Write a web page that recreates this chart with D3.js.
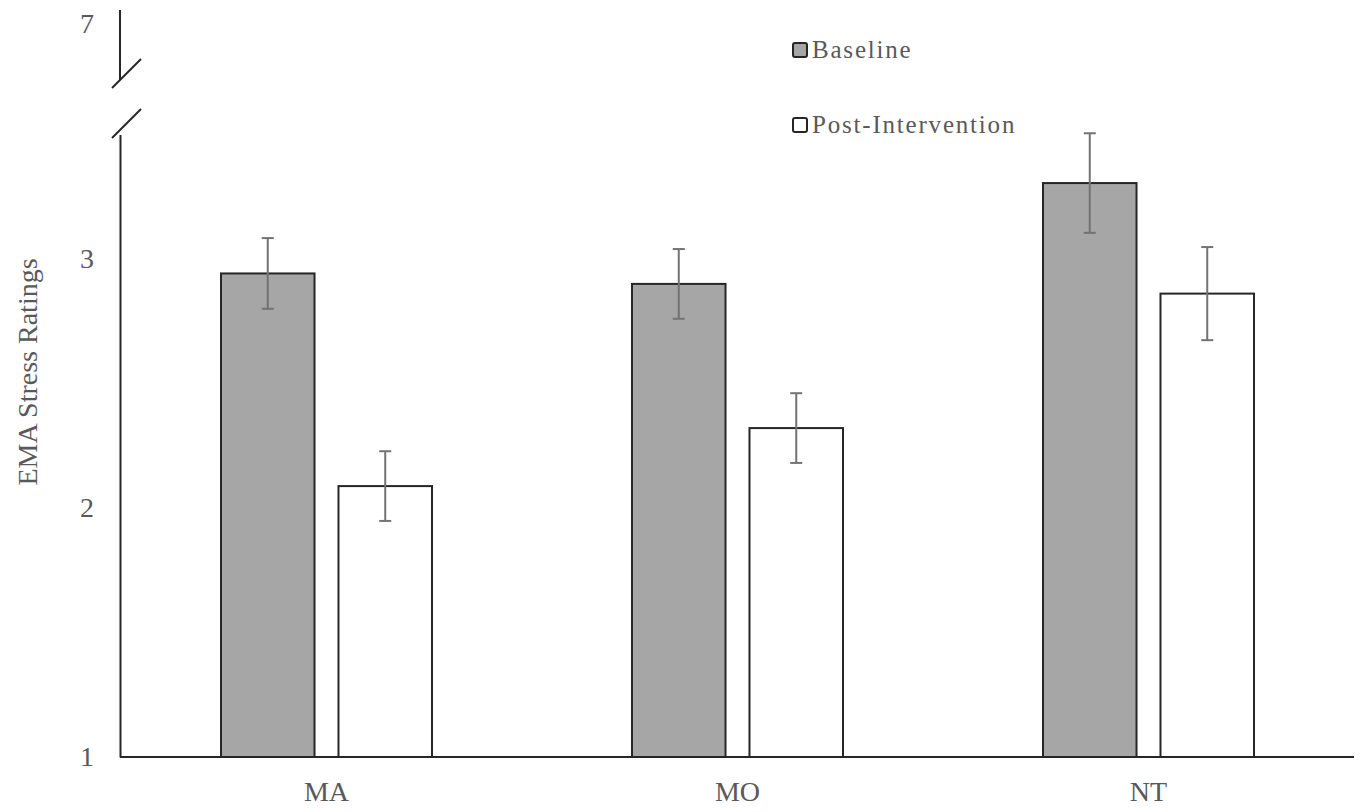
<!DOCTYPE html>
<html>
<head>
<meta charset="utf-8">
<script src="https://cdn.jsdelivr.net/npm/d3@7"></script>
<style>
  html, body { margin: 0; padding: 0; background: #fff; }
  svg { display: block; }
  text { font-family: "Liberation Serif", "Times New Roman", serif; fill: #595959; }
</style>
</head>
<body>
<svg id="chart" width="1362" height="812"></svg>
<script>
// ---- data ----
const categories = ["MA", "MO", "NT"];
const seriesNames = ["Baseline", "Post-Intervention"];
const baselineValues = [2.942, 2.90, 3.305];
const postValues = [2.088, 2.321, 2.861];
const baselineErrors = [0.142, 0.14, 0.20];
const postErrors = [0.14, 0.14, 0.187];
const yTickValues = [1, 2, 3];
const yTopTick = [7];
const yTitle = "EMA Stress Ratings";

// ---- layout ----
const W = 1362, H = 812;
const svg = d3.select("#chart");
const ink = "#262626";
const fills = ["#a6a6a6", "#ffffff"];
const axisX = 120;

const x0 = d3.scaleBand().domain(categories).range([121, 1354]).paddingInner(0).paddingOuter(0);
const x1 = d3.scaleBand().domain(seriesNames).range([100, 311]).paddingInner(0.204).paddingOuter(0);
const y = d3.scaleLinear().domain([1, 3.5]).range([757, 134.5]);
const yTop = d3.scaleLinear().domain([6.8, 7.05]).range([80, 10]);

const rows = categories.map((c, i) => ({
  cat: c,
  vals: [
    { s: seriesNames[0], v: baselineValues[i], e: baselineErrors[i], f: fills[0] },
    { s: seriesNames[1], v: postValues[i], e: postErrors[i], f: fills[1] }
  ]
}));

// bars
const g = svg.append("g");
const groups = g.selectAll("g.cat").data(rows).join("g")
  .attr("class", "cat")
  .attr("transform", d => `translate(${x0(d.cat)},0)`);

groups.selectAll("rect").data(d => d.vals).join("rect")
  .attr("x", d => x1(d.s))
  .attr("width", x1.bandwidth())
  .attr("y", d => y(d.v))
  .attr("height", d => y(1) - y(d.v))
  .attr("fill", d => d.f)
  .attr("stroke", ink)
  .attr("stroke-width", 2);

// error bars
const eb = groups.selectAll("g.err").data(d => d.vals).join("g").attr("class", "err");
const ebColor = "#737373";
eb.append("line")
  .attr("x1", d => x1(d.s) + x1.bandwidth() / 2)
  .attr("x2", d => x1(d.s) + x1.bandwidth() / 2)
  .attr("y1", d => y(d.v + d.e))
  .attr("y2", d => y(d.v - d.e))
  .attr("stroke", ebColor).attr("stroke-width", 2);
[1, -1].forEach(sgn => {
  eb.append("line")
    .attr("x1", d => x1(d.s) + x1.bandwidth() / 2 - 6)
    .attr("x2", d => x1(d.s) + x1.bandwidth() / 2 + 6)
    .attr("y1", d => y(d.v + sgn * d.e))
    .attr("y2", d => y(d.v + sgn * d.e))
    .attr("stroke", ebColor).attr("stroke-width", 2);
});

// y axis (lower segment)
const yAxis = d3.axisLeft(y).tickValues(yTickValues).tickSize(0).tickPadding(26).tickFormat(d3.format("d"));
const ya = svg.append("g").attr("transform", `translate(${axisX},0)`).call(yAxis);
ya.select(".domain").attr("stroke", ink).attr("stroke-width", 2);
ya.selectAll(".tick text").attr("font-size", 28).attr("font-family", "Liberation Serif").attr("fill", "#595959").attr("dy", "0.32em");

// upper segment
const yaTop = svg.append("g").attr("transform", `translate(${axisX},0)`)
  .call(d3.axisLeft(yTop).tickValues(yTopTick).tickSize(0).tickPadding(26).tickFormat(d3.format("d")));
yaTop.select(".domain").remove();
yaTop.selectAll(".tick text").attr("font-size", 28).attr("font-family", "Liberation Serif").attr("fill", "#595959").attr("dy", "0.32em");
svg.append("line").attr("x1", axisX).attr("x2", axisX).attr("y1", yTop.range()[1]).attr("y2", yTop.range()[0])
  .attr("stroke", ink).attr("stroke-width", 2);

// break slashes
svg.append("line").attr("x1", 112).attr("y1", 88).attr("x2", 141).attr("y2", 59).attr("stroke", ink).attr("stroke-width", 2);
svg.append("line").attr("x1", 112).attr("y1", 138).attr("x2", 141).attr("y2", 109).attr("stroke", ink).attr("stroke-width", 2);

// x axis
const xAxis = d3.axisBottom(x0).tickSize(0).tickPadding(24);
const xa = svg.append("g").attr("transform", `translate(0,${y(1)})`).call(xAxis);
xa.select(".domain").attr("d", `M${axisX},0H1354`).attr("stroke", ink).attr("stroke-width", 2);
xa.selectAll(".tick text").attr("font-size", 28).attr("font-family", "Liberation Serif").attr("fill", "#595959");

// y title
svg.append("text")
  .attr("transform", `translate(37,372) rotate(-90)`)
  .attr("text-anchor", "middle")
  .attr("font-size", 28)
  .text(yTitle);

// legend
const leg = svg.append("g").selectAll("g").data(seriesNames).join("g")
  .attr("transform", (d, i) => `translate(792,${42 + i * 75})`);
leg.append("rect").attr("x", 1).attr("y", 1).attr("width", 14).attr("height", 14).attr("rx", 2)
  .attr("fill", (d, i) => fills[i]).attr("stroke", ink).attr("stroke-width", 2);
leg.append("text").attr("x", 20).attr("y", 16).attr("font-size", 25).attr("letter-spacing", 1.8).text(d => d);
</script>
</body>
</html>
